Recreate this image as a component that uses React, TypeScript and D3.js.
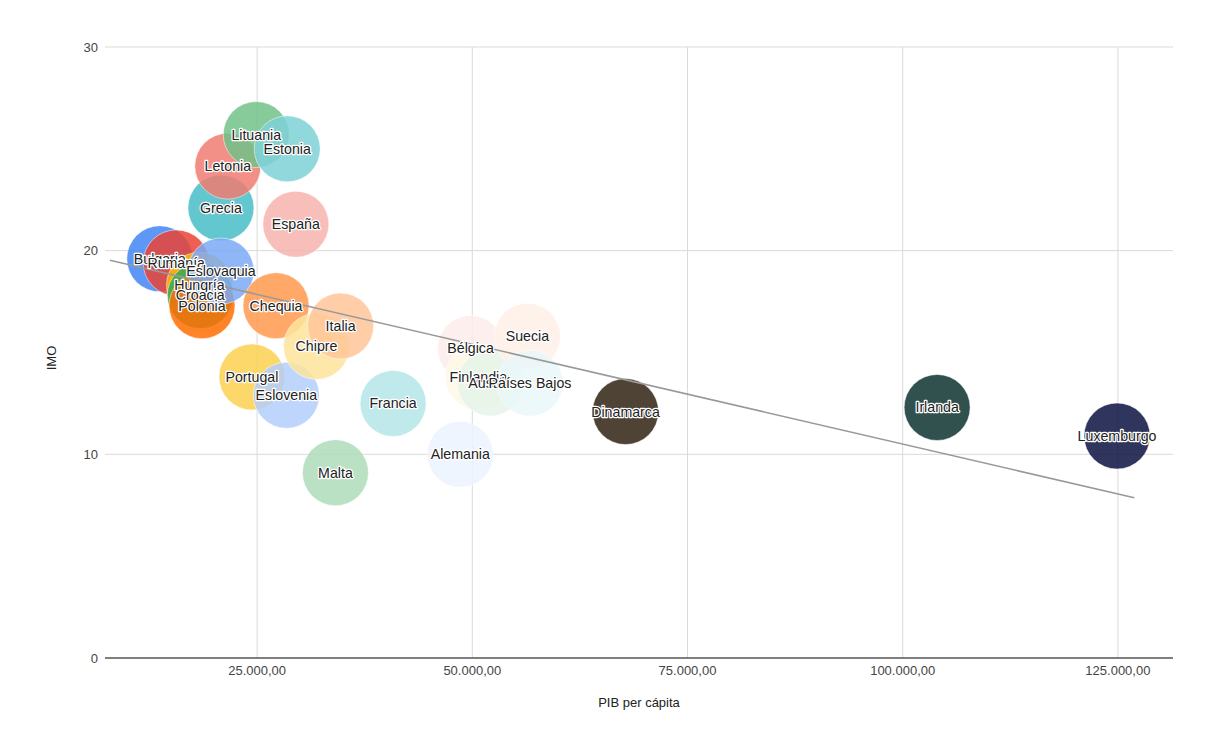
import React from "react";
import * as d3 from "d3";

// PIB per cápita (x) e IMO (y) por país, ordenados por PIB
const countries = [
  "Bulgaria", "Rumanía", "Hungría", "Croacia", "Polonia", "Grecia", "Eslovaquia",
  "Letonia", "Portugal", "Lituania", "Chequia", "Estonia", "Eslovenia", "España",
  "Chipre", "Malta", "Italia", "Francia", "Alemania", "Bélgica", "Finlandia",
  "Austria", "Suecia", "Países Bajos", "Dinamarca", "Irlanda", "Luxemburgo",
];
const pibPerCapita = [
  13700, 15600, 18300, 18400, 18600, 20800, 20800,
  21600, 24400, 24900, 27200, 28500, 28400, 29500,
  31900, 34100, 34700, 40800, 48600, 49800, 50700,
  52100, 56400, 56700, 67800, 104000, 124900,
];
const imo = [
  19.6, 19.4, 18.3, 17.8, 17.3, 22.1, 19.0,
  24.15, 13.8, 25.7, 17.3, 25.0, 12.9, 21.3,
  15.3, 9.1, 16.3, 12.5, 10.0, 15.2, 13.8,
  13.5, 15.8, 13.5, 12.1, 12.3, 10.9,
];
const palette = [
  "#4285f4", "#ea4335", "#fbbc04", "#34a853", "#ff6d01", "#46bdc6", "#7baaf7",
  "#f07b72", "#fcd04f", "#71c287", "#ff994d", "#7ed1d7", "#b3cefb", "#f7b4ae",
  "#fde49b", "#aedcba", "#ffc599", "#b5e5e8", "#ecf3fe", "#fdeceb", "#fff8e6",
  "#e6f4ea", "#fff0e6", "#e9f7f8", "#2f2210", "#0d3330", "#0a1240",
];

const xTicks = [25000, 50000, 75000, 100000, 125000];
const yTicks = [0, 10, 20, 30];
const xDomain = [7330, 131400];
const yDomain = [0, 30];
const trendRange = [7900, 126900];

const W = 1208;
const H = 745;
const left = 105;
const right = 1173;
const top = 47;
const bottom = 658;
const R = 33;
const FONT = "Arial, 'Liberation Sans', Helvetica, sans-serif";

const fmt = (v: number) =>
  d3.format(",.2f")(v).replace(/,/g, "X").replace(/\./g, ",").replace(/X/g, ".");

export default function App() {
  const x = d3.scaleLinear().domain(xDomain).range([left, right]);
  const y = d3.scaleLinear().domain(yDomain).range([bottom, top]);

  const data = countries.map((c, i) => ({ c, x: pibPerCapita[i], y: imo[i], color: palette[i] }));

  // ordinary least squares trend line
  const mx = d3.mean(pibPerCapita)!;
  const my = d3.mean(imo)!;
  const sxy = d3.sum(pibPerCapita, (v, i) => (v - mx) * (imo[i] - my));
  const sxx = d3.sum(pibPerCapita, (v) => (v - mx) * (v - mx));
  const slope = sxy / sxx;
  const intercept = my - slope * mx;
  const trend = d3.line<number>().x((v) => x(v)).y((v) => y(intercept + slope * v));

  return (
    <svg width={W} height={H} style={{ position: "absolute", left: 0, top: 0 }} fontFamily={FONT}>
      <rect width={W} height={H} fill="#fff" />
      {/* grid */}
      {yTicks.filter((t) => t > 0).map((t) => (
        <line key={"gy" + t} x1={left} x2={right} y1={y(t)} y2={y(t)} stroke="#dadada" strokeWidth={1} />
      ))}
      {xTicks.map((t) => (
        <line key={"gx" + t} x1={x(t)} x2={x(t)} y1={top} y2={bottom} stroke="#dadada" strokeWidth={1} />
      ))}
      {/* bubbles */}
      {data.map((d) => (
        <circle key={d.c} cx={x(d.x)} cy={y(d.y)} r={R} fill={d.color} fillOpacity={0.85}
          stroke="#ffffff" strokeOpacity={0.5} strokeWidth={1} />
      ))}
      {/* baseline */}
      <line x1={left} x2={right} y1={y(0)} y2={y(0)} stroke="#555" strokeWidth={1.5} />
      {/* trend line */}
      <path d={trend(trendRange) || ""} fill="none" stroke="#999" strokeWidth={1.6} />
      {/* bubble labels */}
      {data.map((d) => (
        <text key={"l" + d.c} x={x(d.x)} y={y(d.y)} dy="0.35em" textAnchor="middle" fontSize={14.2}
          fill="#222" stroke="#fff" strokeWidth={2.5} strokeLinejoin="round"
          style={{ paintOrder: "stroke" }}>
          {d.c}
        </text>
      ))}
      {/* axis labels */}
      {xTicks.map((t) => (
        <text key={"xt" + t} x={x(t)} y={bottom + 17} textAnchor="middle" fontSize={13} fill="#444">
          {fmt(t)}
        </text>
      ))}
      {yTicks.map((t) => (
        <text key={"yt" + t} x={98} y={y(t) + 4.5} textAnchor="end" fontSize={13} fill="#444">
          {t}
        </text>
      ))}
      <text x={(left + right) / 2} y={707} textAnchor="middle" fontSize={13} fill="#222">
        PIB per cápita
      </text>
      <text transform={`translate(56,358) rotate(-90)`} textAnchor="middle" fontSize={13} fill="#222">
        IMO
      </text>
    </svg>
  );
}
